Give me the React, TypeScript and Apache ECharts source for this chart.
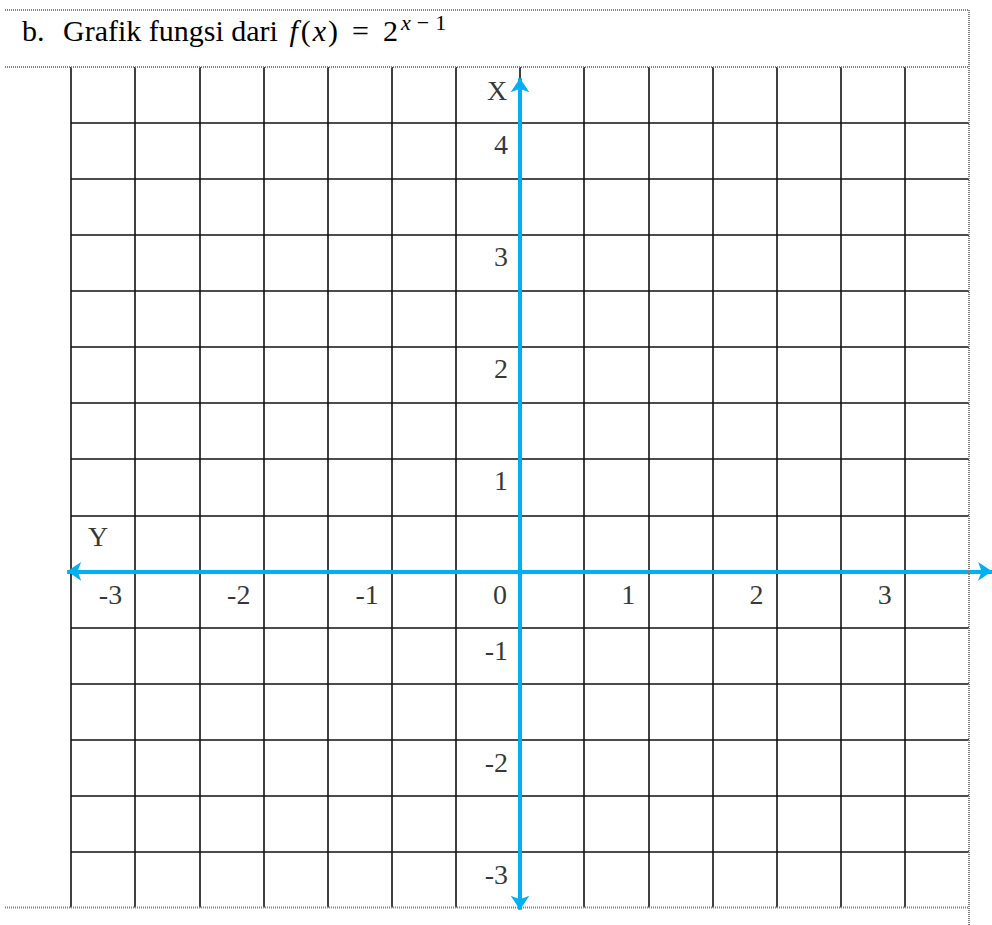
import React, { useEffect, useRef } from "react";
import * as echarts from "echarts";

// ---- data ----
const xRange = [-3.5, 3.5];
const yRange = [-3, 4.5];
const gridStep = 0.5;
const xTickValues = [-3, -2, -1, 0, 1, 2, 3];
const yTickValues = [4, 3, 2, 1, -1, -2, -3];
const horizontalArrow = [
  [-3.53, 0],
  [3.68, 0],
];
const verticalArrow = [
  [0, -3.02],
  [0, 4.4],
];
const axisNames = [
  { name: "X", at: [0, 4.5] },
  { name: "Y", at: [-3.5, 0] },
];

const SERIF = "'Liberation Serif', 'Times New Roman', serif";
const LABEL_SIZE = 28;

export default function App() {
  const ref = useRef<HTMLDivElement>(null);

  useEffect(() => {
    if (!ref.current) return;
    const chart = echarts.init(ref.current, null, { renderer: "svg" });

    const dotted = (x1: number, y1: number, x2: number, y2: number) => ({
      type: "line",
      shape: { x1, y1, x2, y2 },
      style: { stroke: "#808080", lineWidth: 2, lineDash: [1, 1] },
      silent: true,
      z: 10,
    });

    const base = {
      fontFamily: SERIF,
      fontSize: 30,
      lineHeight: 38,
      color: "#000",
      fontWeight: "normal",
    };
    const sup = {
      ...base,
      fontSize: 22,
      lineHeight: 20,
      verticalAlign: "top",
    };

    const option: any = {
      animation: false,
      backgroundColor: "#ffffff",
      title: {
        left: 22,
        top: 11,
        padding: 0,
        text:
          "{b|b.}{g|Grafik fungsi dari }{f|f}{m|(}{x|x}{m|)}{e|=}{m|2}{s1|x}{s2|−}{s3|1}",
        textStyle: {
          fontWeight: "normal",
          rich: {
            b: { ...base, width: 41 },
            g: { ...base },
            f: { ...base, fontStyle: "italic", padding: [0, 3, 0, 4] },
            x: { ...base, fontStyle: "italic", padding: [0, 2, 0, 2] },
            m: { ...base },
            e: { ...base, padding: [0, 14, 0, 14] },
            s1: { ...sup, fontStyle: "italic", padding: [0, 0, 0, 3] },
            s2: { ...sup, padding: [0, 6, 0, 6] },
            s3: { ...sup },
          },
        },
      },
      grid: { left: 71, top: 67, right: 23, bottom: 17.5, containLabel: false },
      xAxis: {
        type: "value",
        min: xRange[0],
        max: xRange[1],
        interval: gridStep,
        axisLine: { show: false },
        axisTick: { show: false },
        axisLabel: { show: false },
        splitLine: {
          show: true,
          showMinLine: true,
          showMaxLine: false,
          lineStyle: { color: "#111", width: 1.6 },
        },
      },
      yAxis: {
        type: "value",
        min: yRange[0],
        max: yRange[1],
        interval: gridStep,
        axisLine: { show: false },
        axisTick: { show: false },
        axisLabel: { show: false },
        splitLine: {
          show: true,
          showMinLine: false,
          showMaxLine: false,
          lineStyle: { color: "#111", width: 1.6 },
        },
      },
      graphic: [
        dotted(5, 10, 969, 10),
        dotted(5, 67, 969, 67),
        dotted(5, 907.5, 969, 907.5),
        dotted(969, 10, 969, 925),
      ],
      series: [
        {
          type: "lines",
          coordinateSystem: "cartesian2d",
          data: [{ coords: horizontalArrow }, { coords: verticalArrow }],
          symbol: ["arrow", "arrow"],
          symbolSize: 14,
          lineStyle: { color: "#00B0F0", width: 4, opacity: 1, curveness: 0 },
          clip: false,
          silent: true,
          z: 5,
        },
        {
          type: "scatter",
          symbolSize: 0,
          clip: false,
          silent: true,
          z: 6,
          data: xTickValues.map((v) => ({ name: String(v), value: [v, 0] })),
          label: {
            show: true,
            position: "inside",
            formatter: "{b}",
            fontFamily: SERIF,
            fontSize: LABEL_SIZE,
            color: "#000",
            align: "right",
            offset: [-13, 23],
          },
        },
        {
          type: "scatter",
          symbolSize: 0,
          clip: false,
          silent: true,
          z: 6,
          data: yTickValues.map((v) => ({
            name: String(v),
            value: [0, v],
            label: { offset: v > 0 ? [-12, 21] : [-12, -33] },
          })),
          label: {
            show: true,
            position: "inside",
            formatter: "{b}",
            fontFamily: SERIF,
            fontSize: LABEL_SIZE,
            color: "#000",
            align: "right",
          },
        },
        {
          type: "scatter",
          symbolSize: 0,
          clip: false,
          silent: true,
          z: 6,
          data: axisNames.map((a) => ({
            name: a.name,
            value: a.at,
            label: { offset: a.name === "X" ? [-23, 23] : [27, -35] },
          })),
          label: {
            show: true,
            position: "inside",
            formatter: "{b}",
            fontFamily: SERIF,
            fontSize: LABEL_SIZE,
            color: "#000",
            align: "center",
          },
        },
      ],
    };

    chart.setOption(option);
    return () => chart.dispose();
  }, []);

  return (
    <div
      ref={ref}
      style={{
        position: "fixed",
        left: 0,
        top: 0,
        width: 992,
        height: 925,
        background: "#fff",
      }}
    />
  );
}
